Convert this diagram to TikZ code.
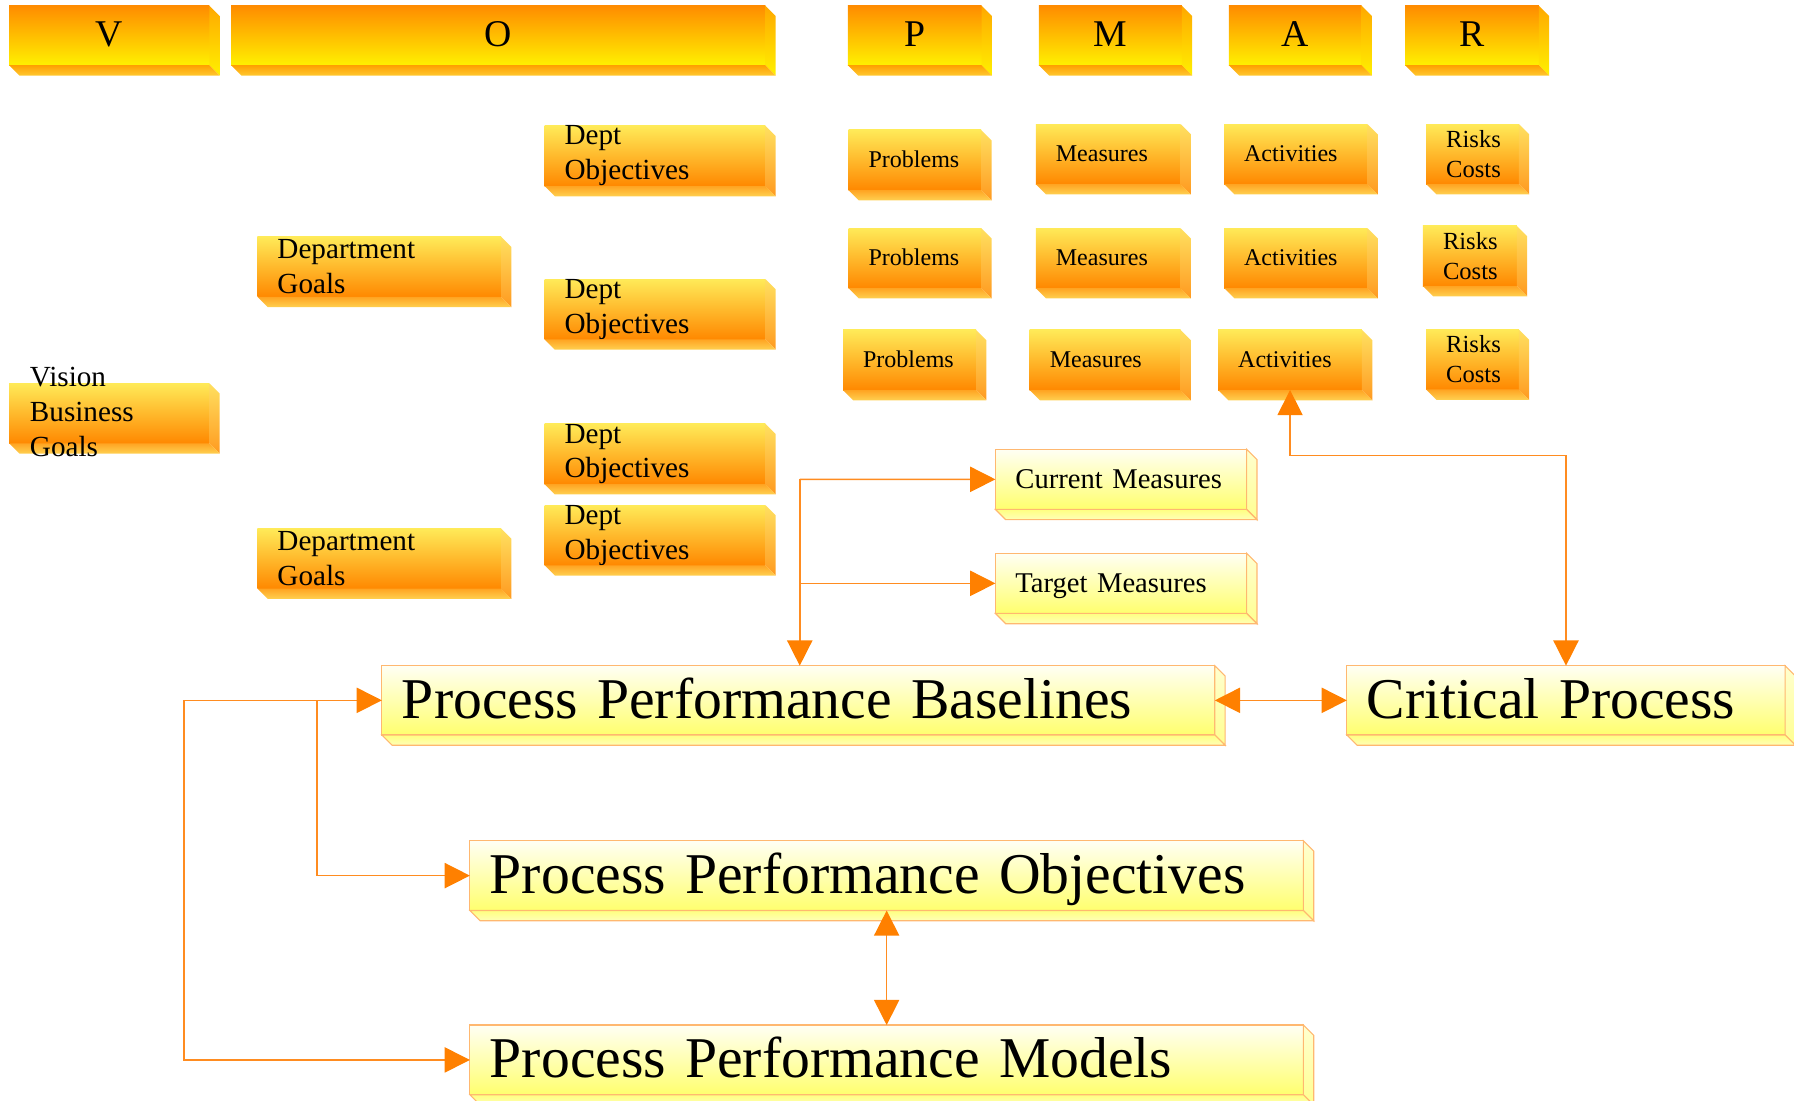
\documentclass[tikz,border=0pt]{standalone}
\usepackage{fontspec}
\setmainfont{Liberation Serif}
\usetikzlibrary{arrows.meta}

\definecolor{hdrtop}{HTML}{FF8C00}
\definecolor{hdrbot}{HTML}{FFF000}
\definecolor{hdrside}{HTML}{FFA800}
\definecolor{hdrbase}{HTML}{FFA000}
\definecolor{hdrbase2}{HTML}{FFC830}
\definecolor{obtop}{HTML}{FFEA58}
\definecolor{obbot}{HTML}{FF8800}
\definecolor{obside}{HTML}{FFE060}
\definecolor{obside2}{HTML}{FF9A20}
\definecolor{obbase}{HTML}{FFA422}
\definecolor{obbase2}{HTML}{FFD050}
\definecolor{ybtop}{HTML}{FFFFF4}
\definecolor{ybbot}{HTML}{FFFF6E}
\definecolor{ybside}{HTML}{FFFFD0}
\definecolor{ybside2}{HTML}{FFFF90}
\definecolor{ybbase}{HTML}{FFFF80}
\definecolor{ybbase2}{HTML}{FFFFB8}
\definecolor{yline}{HTML}{FFB870}
\definecolor{arrline}{HTML}{FF8C20}
\definecolor{arrcol}{HTML}{FF8000}

\tikzset{
  hdr/.style={top color=hdrtop, bottom color=hdrbot, anchor=north west, outer sep=0pt,
    inner sep=0pt, minimum height=52pt, font=\fontsize{33}{36}\selectfont,
    text height=24pt, text depth=4pt},
  obox/.style={top color=obtop, bottom color=obbot, anchor=north west, outer sep=0pt,
    minimum height=52.5pt},
  ybox/.style={draw=yline, line width=1pt, top color=ybtop, bottom color=ybbot,
    anchor=north west, outer sep=0pt},
  lbl/.style={inner xsep=17.5pt, inner ysep=0pt, align=left},
  goaltxt/.style={font=\fontsize{25.5}{30.5}\selectfont},
  pmatxt/.style={font=\fontsize{21}{24}\selectfont, text height=15pt, text depth=2pt},
  risktxt/.style={font=\fontsize{21.5}{26}\selectfont},
  meastxt/.style={font=\fontsize{25}{28}\selectfont, text height=18pt, text depth=2.4pt},
  bigtxt/.style={font=\fontsize{50.4}{56}\selectfont, text height=37pt, text depth=6pt},
  conn/.style={draw=arrline, line width=1.3pt, >={Triangle[length=22pt,width=22pt,color=arrcol]}}
}

\begin{document}
\begin{tikzpicture}[x=1pt, y=-1pt]
\useasboundingbox (0,0) rectangle (1568,962);

% column heads
\node[hdr, minimum width=175pt] (hv) at (8,5) {V};
\node[hdr, minimum width=467pt] (ho) at (202,5) {O};
\node[hdr, minimum width=117pt] (hp) at (741,5) {P};
\node[hdr, minimum width=125pt] (hm) at (908,5) {M};
\node[hdr, minimum width=116pt] (ha) at (1074,5) {A};
\node[hdr, minimum width=117pt] (hr) at (1228,5) {R};

% goals and objectives
\node[obox, minimum width=175pt] (vbg) at (8,335) {};
\node[obox, lbl, goaltxt, text width=178pt] (dg1) at (225,207) {Department\\Goals};
\node[obox, lbl, goaltxt, text width=178pt] (dg2) at (225,462) {Department\\Goals};
\node[obox, lbl, goaltxt, text width=158pt] (do1) at (476,110) {Dept\\Objectives};
\node[obox, lbl, goaltxt, text width=158pt] (do2) at (476,244) {Dept\\Objectives};
\node[obox, lbl, goaltxt, text width=158pt] (do3) at (476,370.5) {Dept\\Objectives};
\node[obox, lbl, goaltxt, text width=158pt] (do4) at (476,441.5) {Dept\\Objectives};

% problems, measures, activities, risks
\node[obox, lbl, pmatxt, text width=81pt] (p1) at (741.6,113.6) {Problems};
\node[obox, lbl, pmatxt, text width=91.5pt] (m1) at (905.3,108.4) {Measures};
\node[obox, lbl, pmatxt, text width=90.3pt] (a1) at (1069.9,108.4) {Activities};
\node[obox, lbl, risktxt, text width=46pt] (r1) at (1246.5,108.4) {Risks\\Costs};
\node[obox, lbl, pmatxt, text width=81pt] (p2) at (741.6,199.3) {Problems};
\node[obox, lbl, pmatxt, text width=91.5pt] (m2) at (905.3,199.3) {Measures};
\node[obox, lbl, pmatxt, text width=90.3pt] (a2) at (1069.9,199.3) {Activities};
\node[obox, lbl, risktxt, text width=47pt] (r2) at (1243.7,197.5) {Risks\\Costs};
\node[obox, lbl, pmatxt, text width=81.4pt] (p3) at (736.8,288.4) {Problems};
\node[obox, lbl, pmatxt, text width=96.8pt] (m3) at (900,288.4) {Measures};
\node[obox, lbl, pmatxt, text width=90.7pt] (a3) at (1064.7,288.4) {Activities};
\node[obox, lbl, risktxt, text width=46pt] (r3) at (1246.5,287.9) {Risks\\Costs};

% measures and process performance
\node[ybox, lbl, meastxt, text width=184.6pt, minimum height=52.5pt] (cm) at (870,392.7) {Current Measures};
\node[ybox, lbl, meastxt, text width=184.6pt, minimum height=52.5pt] (tm) at (870,483.6) {Target Measures};
\node[ybox, lbl, bigtxt, text width=693pt, minimum height=60.6pt] (ppb) at (333.8,581.8) {Process Performance Baselines};
\node[ybox, lbl, bigtxt, text width=348pt, minimum height=60.6pt] (cp) at (1177.2,581.8) {Critical Process};
\node[ybox, lbl, bigtxt, text width=693.5pt, minimum height=61pt] (ppo) at (410.7,734.8) {Process Performance Objectives};
\node[ybox, lbl, bigtxt, text width=693.5pt, minimum height=61pt] (ppm) at (410.7,895.9) {Process Performance Models};

% side and base of each slab
\foreach \n in {hv,ho,hp,hm,ha,hr} {
  \shade[top color=hdrside, bottom color=hdrbot] (\n.north east) -- ++(9,9) -- ([shift={(9,9)}]\n.south east) -- (\n.south east) -- cycle;
  \shade[top color=hdrbase, bottom color=hdrbase2] (\n.south west) -- (\n.south east) -- ++(9,9) -- ([shift={(9,9)}]\n.south west) -- cycle;
}
\foreach \n in {vbg,dg1,dg2,do1,do2,do3,do4,p1,m1,a1,r1,p2,m2,a2,r2,p3,m3,a3,r3} {
  \shade[top color=obside, bottom color=obside2] (\n.north east) -- ++(9,9) -- ([shift={(9,9)}]\n.south east) -- (\n.south east) -- cycle;
  \shade[top color=obbase, bottom color=obbase2] (\n.south west) -- (\n.south east) -- ++(9,9) -- ([shift={(9,9)}]\n.south west) -- cycle;
}
\foreach \n in {cm,tm,ppb,cp,ppo,ppm} {
  \shade[draw=yline, line width=1pt, top color=ybside, bottom color=ybside2] (\n.north east) -- ++(9,9) -- ([shift={(9,9)}]\n.south east) -- (\n.south east) -- cycle;
  \shade[draw=yline, line width=1pt, top color=ybbase, bottom color=ybbase2] (\n.south west) -- (\n.south east) -- ++(9,9) -- ([shift={(9,9)}]\n.south west) -- cycle;
}

% text of the vision box runs over its edges
\node[anchor=west, align=left, inner sep=0pt, goaltxt] (vbgtext) at (26,360) {Vision\\Business\\Goals};

% connectors
\coordinate (split) at (699,419);
\coordinate (outer) at (161,612.1);
\coordinate (inner) at (277,612.1);
\draw[conn,<->] (a3.south) -- ++(0,57) -| (cp.north);
\draw[conn,->] (split) -- (cm.west);
\draw[conn,->] (split) |- (tm.west);
\draw[conn,->] (split) -- (split |- ppb.north);
\draw[conn,<->] (ppb.east) -- (cp.west);
\draw[conn,<->] (ppb.west) -- (outer) |- (ppm.west);
\draw[conn,->] (inner) |- (ppo.west);
\draw[conn,<->] (ppo.south) -- (ppm.north);
\end{tikzpicture}
\end{document}
